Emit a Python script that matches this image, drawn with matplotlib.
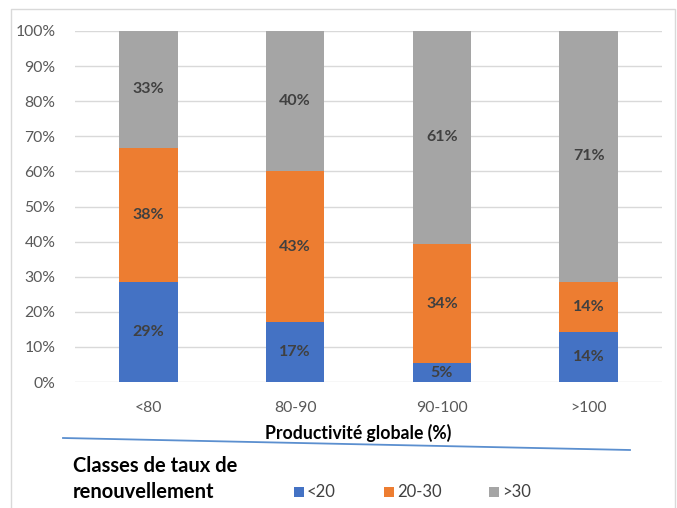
import matplotlib.pyplot as plt
from matplotlib.lines import Line2D
from matplotlib.patches import Rectangle

# Donnees (parts en %)
categories = ["<80", "80-90", "90-100", ">100"]
classes = ["<20", "20-30", ">30"]
part_lt20 = [28.6, 17.1, 5.3, 14.3]
part_20_30 = [38.1, 42.9, 34.1, 14.3]
part_gt30 = [33.3, 40.0, 60.6, 71.4]
colors = ["#4472C4", "#ED7D31", "#A5A5A5"]

plt.rcParams["font.family"] = ["Lato", "DejaVu Sans"]

fig = plt.figure(figsize=(6.77, 5.08), dpi=100)
fig.patch.set_facecolor("white")
ax = fig.add_axes([75 / 677, 1 - 382 / 508, 587 / 677, 351 / 508])

x = range(len(categories))
bottom = [0] * len(categories)
for vals, col in zip([part_lt20, part_20_30, part_gt30], colors):
    bars = ax.bar(x, vals, bottom=bottom, width=0.40, color=col, zorder=3)
    for b, v, b0 in zip(bars, vals, bottom):
        ax.text(b.get_x() + b.get_width() / 2, b0 + v / 2, f"{v:.0f}%",
                ha="center", va="center", fontsize=11.5, fontweight="bold",
                color="#404040", zorder=4)
    bottom = [a + v for a, v in zip(bottom, vals)]

ax.set_ylim(0, 100)
ax.set_xlim(-0.5, len(categories) - 0.5)
ax.set_yticks(range(0, 101, 10))
ax.set_yticklabels([f"{t}%" for t in range(0, 101, 10)])
ax.set_xticks(list(x))
ax.set_xticklabels(categories)
ax.tick_params(length=0, labelsize=11.3, labelcolor="#595959")
ax.tick_params(axis="x", pad=14)
ax.tick_params(axis="y", pad=14)
ax.grid(axis="y", color="#D9D9D9", lw=1.0, zorder=0)
for s in ax.spines.values():
    s.set_visible(False)

# titre de l'axe x
fig.text(358 / 677, 1 - 433 / 508, "Productivité globale (%)", ha="center",
         va="center", fontsize=12.7, fontweight="bold", color="black")

# ligne bleue sous le titre
fig.add_artist(Line2D([63 / 677, 630 / 677], [1 - 438 / 508, 1 - 450 / 508],
                      color="#5B8FCF", lw=1.3, transform=fig.transFigure))

# cadre exterieur
fig.add_artist(Line2D([11 / 677, 11 / 677, 675 / 677, 675 / 677],
                      [0, 1 - 9 / 508, 1 - 9 / 508, 0],
                      color="#D9D9D9", lw=1.0, transform=fig.transFigure))

# legende
fig.text(73 / 677, 1 - 466 / 508, "Classes de taux de", ha="left", va="center",
         fontsize=14.5, fontweight="bold", color="black")
fig.text(73 / 677, 1 - 492 / 508, "renouvellement", ha="left", va="center",
         fontsize=14.5, fontweight="bold", color="black")
for xs, lab, col in zip([294, 384, 489], classes, colors):
    fig.add_artist(Rectangle((xs / 677, 1 - 497 / 508), 10 / 677, 10 / 508,
                             facecolor=col, edgecolor="none",
                             transform=fig.transFigure))
    fig.text((xs + 13) / 677, 1 - 492 / 508, lab, ha="left", va="center",
             fontsize=12, color="#404040")

fig.savefig("out.png", dpi=100, facecolor="white")
